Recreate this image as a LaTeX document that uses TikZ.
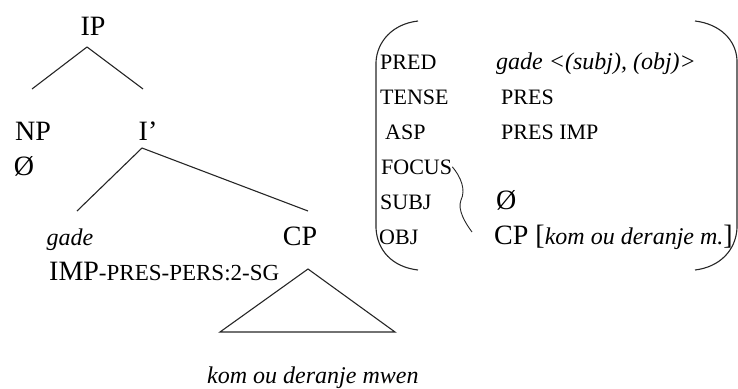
\documentclass[tikz,border=0pt]{standalone}
\usepackage{fontspec}
\setmainfont{Liberation Serif}
\newcommand{\treesize}{\fontsize{28}{30}\selectfont}
\newcommand{\avmsize}{\fontsize{22}{24}\selectfont}
\newcommand{\itsize}{\fontsize{24}{26}\selectfont\itshape}
\newcommand{\scsize}{\fontsize{23}{25}\selectfont}
\tikzset{
	lab/.style = {inner sep = 0pt, anchor = base},
	labw/.style = {inner sep = 0pt, anchor = base west},
	branch/.style = {line width = 1.1pt, black!85}
}
\begin{document}
\begin{tikzpicture}[x = 1pt, y = -1pt]
	\useasboundingbox (0, 0) rectangle (738, 388);

	% tree
	\draw (93, 35) node[lab, font = \treesize](IP){IP};
	\draw (33, 140) node[lab, font = \treesize](NP){NP};
	\draw (24, 175) node[lab, font = \treesize](null){Ø};
	\draw (148, 140) node[lab, font = \treesize](Ibar){I’};
	\draw (70, 245) node[lab, font = \itsize](gade){gade};
	\draw (300, 245) node[lab, font = \treesize](CP){CP};
	\draw (49, 280) node[labw, font = \treesize](infl){IMP{\scsize -PRES-PERS:2-SG}};
	\draw (207, 383) node[labw, font = \itsize](clause){kom ou deranje mwen};

	\coordinate (IP-foot) at (87, 47);
	\coordinate (NP-head) at (32, 89);
	\coordinate (Ibar-head) at (143, 89);
	\coordinate (Ibar-foot) at (142, 148);
	\coordinate (gade-head) at (77, 211);
	\coordinate (CP-head) at (308, 211);
	\coordinate (roof-top) at (308, 269);
	\coordinate (roof-left) at (220, 332);
	\coordinate (roof-right) at (395, 332);

	\draw[branch] (IP-foot) -- (NP-head);
	\draw[branch] (IP-foot) -- (Ibar-head);
	\draw[branch] (Ibar-foot) -- (gade-head);
	\draw[branch] (Ibar-foot) -- (CP-head);
	\draw[branch] (roof-top) -- (roof-left) -- (roof-right) -- cycle;

	% f-structure
	\draw (380, 69) node[labw, font = \avmsize](pred){PRED};
	\draw (380, 104) node[labw, font = \avmsize](tense){TENSE};
	\draw (385, 139) node[labw, font = \avmsize](asp){ASP};
	\draw (381, 174) node[labw, font = \avmsize](focus){FOCUS};
	\draw (380, 209) node[labw, font = \avmsize](subj){SUBJ};
	\draw (379, 244) node[labw, font = \avmsize](obj){OBJ};

	\draw (496, 69) node[labw, font = \itsize](predval){gade <(subj), (obj)>};
	\draw (501, 104) node[labw, font = \avmsize](tenseval){PRES};
	\draw (501, 139) node[labw, font = \avmsize](aspval){PRES IMP};
	\draw (496, 209) node[labw, font = \treesize](subjval){Ø};
	\draw (494, 244) node[labw, font = \treesize](objval){CP [{\itsize kom ou deranje m.}]};

	\draw[branch] (418, 21) .. controls (392, 24) and (377, 42) .. (376, 62)
		-- (376, 228) .. controls (377, 250) and (392, 267) .. (418, 270);
	\draw[branch] (695, 21) .. controls (720, 24) and (736, 40) .. (737, 60)
		-- (737, 228) .. controls (736, 250) and (720, 267) .. (695, 270);

	\coordinate (link) at (472, 232);
	\draw[branch, line width = 0.9pt] (focus.east) .. controls (461, 177) and (466, 190) .. (461, 200)
		.. controls (457, 210) and (466, 224) .. (link);
\end{tikzpicture}
\end{document}
